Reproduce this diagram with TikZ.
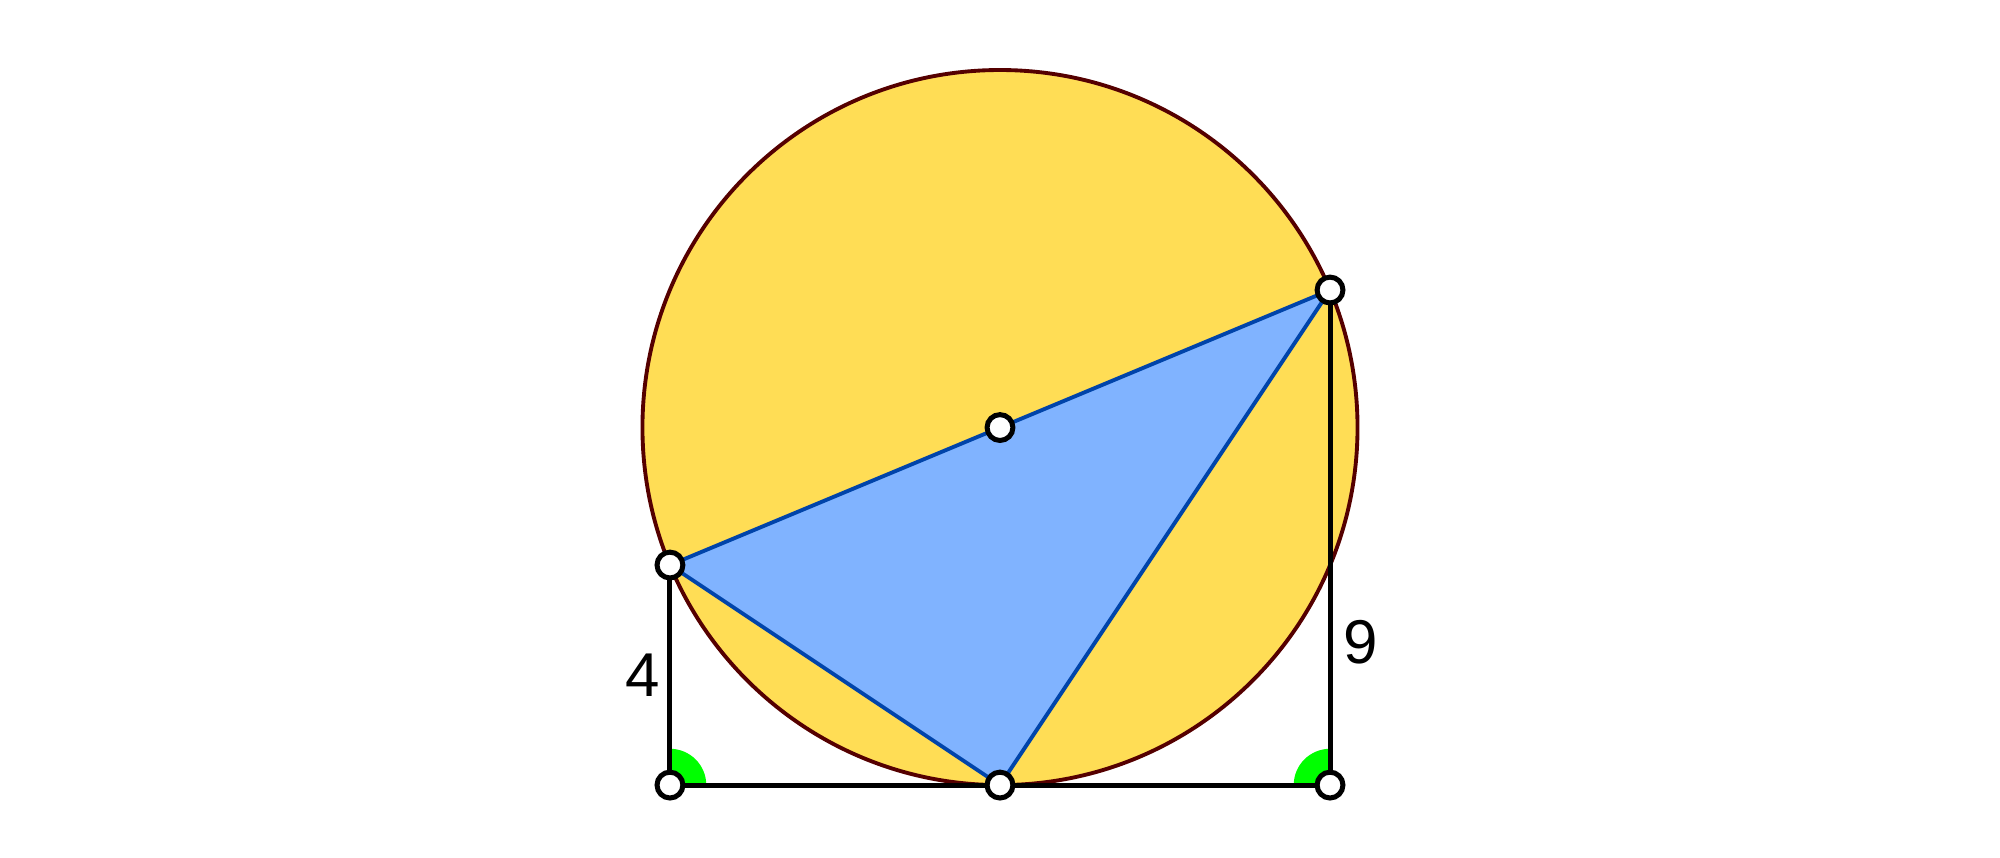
\documentclass[tikz,border=0pt]{standalone}
\usepackage{fontspec}
\setmainfont{Liberation Sans}
\usepackage{tikz}
\usetikzlibrary{positioning}
\definecolor{sunyellow}{HTML}{FFDD55}
\definecolor{skyblue}{HTML}{80B3FF}
\definecolor{deepblue}{HTML}{0044AA}
\definecolor{darkred}{HTML}{550000}
\definecolor{brightgreen}{HTML}{00FF00}
\begin{document}
\begin{tikzpicture}[
ptnode/.style={circle,
  draw=black,
  fill=white,
  line width=2.6pt,
  minimum size=0.47cm,
  inner sep=0pt
},
lbl/.style={font=\fontsize{32}{38}\selectfont, inner sep=0pt},
side/.style={draw=black, line width=2.6pt},
chord/.style={draw=deepblue, line width=2pt, line join=round},
angmark/.style={fill=brightgreen}
]
\useasboundingbox (-12.18,-1.309) rectangle (24.18,14.273);

% points of the figure
\coordinate (A) at (0,0);
\coordinate (M) at (6,0);
\coordinate (B) at (12,0);
\coordinate (P) at (0,4);
\coordinate (Q) at (12,9);
\coordinate (O) at (6,6.5);

% circle on PQ as diameter
\fill[sunyellow] (O) circle (6.5);
\draw[darkred, line width=2pt] (O) circle (6.5);

% right angles
\fill[angmark] (A) -- ++(0.66,0) arc (0:90:0.66) -- cycle;
\fill[angmark] (B) -- ++(0,0.66) arc (90:180:0.66) -- cycle;

% triangle
\path[fill=skyblue] (P) -- (M) -- (Q) -- cycle;
\draw[chord] (P) -- (M) -- (Q) -- (O) -- (P);

% trapezoid sides
\draw[side] (P) -- (A) -- (M) -- (B) -- (Q);

\node[lbl] (four) at (-0.5,2) {4};
\node[lbl] (nine) at (12.55,2.6) {9};

\foreach \p in {A,M,B,P,Q,O}
  \node[ptnode] (pt\p) at (\p) {};
\end{tikzpicture}
\end{document}
